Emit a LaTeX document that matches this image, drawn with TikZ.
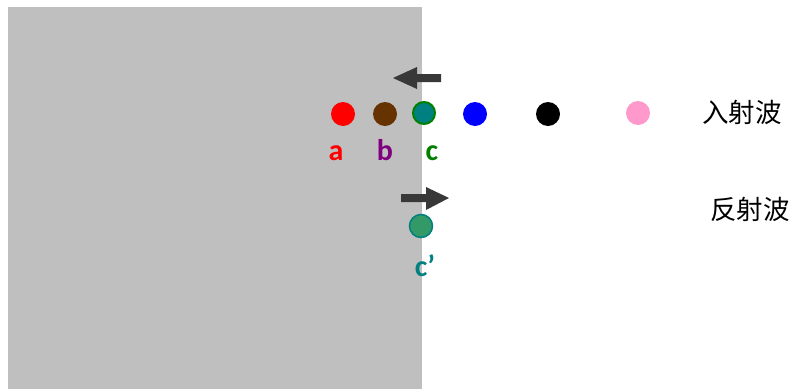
\documentclass[tikz,border=0pt]{standalone}
\usepackage{fontspec}
\setmainfont{Carlito}
\newfontfamily\cjk{Noto Sans CJK SC}
\begin{document}
\begin{tikzpicture}[x=1pt,y=-1pt,
  dot/.style={circle,minimum size=24pt,inner sep=0pt},
  lab/.style={font=\fontsize{30}{30}\selectfont\bfseries,inner sep=0pt,anchor=base},
  cjklab/.style={font=\cjk\fontsize{26.5}{26.5}\selectfont,inner sep=0pt,anchor=west},
  arr/.style={fill=black!78,draw=none}]
\useasboundingbox (0,0) rectangle (792,389);
\fill[black!25] (8,7) rectangle (422,389);
% dots
\node[dot,fill=red] (a) at (343,114) {};
\node[dot,fill={rgb,255:red,102;green,51;blue,0}] (b) at (385,114) {};
\node[dot,fill={rgb,255:red,0;green,128;blue,128},draw={rgb,255:red,0;green,128;blue,0},line width=2pt,minimum size=22pt] (c) at (424,113) {};
\node[dot,fill=blue] (d) at (475,114) {};
\node[dot,fill=black] (e) at (548,114) {};
\node[dot,fill={rgb,255:red,255;green,153;blue,204}] (f) at (638,113) {};
\node[dot,fill={rgb,255:red,51;green,153;blue,102},draw={rgb,255:red,0;green,128;blue,128},line width=1.5pt,minimum size=23pt] (cp) at (421,226) {};
% labels
\node[lab,text=red] (la) at (336,160) {a};
\node[lab,text={rgb,255:red,128;green,0;blue,128}] (lb) at (385,160) {b};
\node[lab,text={rgb,255:red,0;green,128;blue,0}] (lc) at (432,160) {c};
\node[lab,text={rgb,255:red,0;green,128;blue,128}] (lcp) at (425,276) {c’};
\node[cjklab] (inc) at (702,112) {入射波};
\node[cjklab] (ref) at (710,209) {反射波};
% arrows
\fill[arr] (441,74) -- (417,74) -- (417,67) -- (393,78) -- (417,89) -- (417,82) -- (441,82) -- cycle;
\fill[arr] (401,194) -- (426,194) -- (426,187) -- (449,198) -- (426,210) -- (426,202) -- (401,202) -- cycle;
\end{tikzpicture}
\end{document}
